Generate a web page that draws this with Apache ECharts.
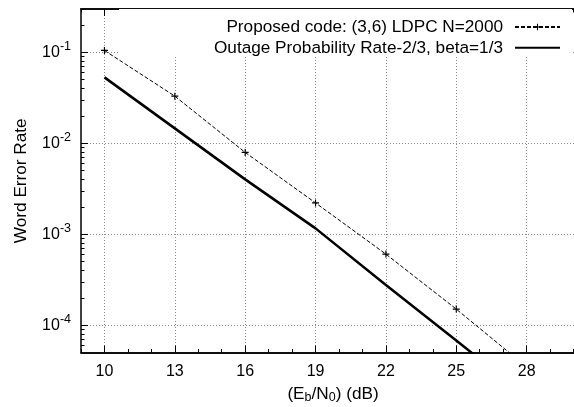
<!DOCTYPE html>
<html>
<head>
<meta charset="utf-8">
<script src="https://cdn.jsdelivr.net/npm/echarts@6/dist/echarts.min.js"></script>
<style>
  html, body { margin: 0; padding: 0; background: #fff; }
  #chart { width: 574px; height: 407px; }
</style>
</head>
<body>
<div id="chart"></div>
<script>
// Eb/N0 sample points (dB)
const ebn0 = [10, 13, 16, 19, 22, 25, 28];
// Simulated word error rate of the (3,6) LDPC code, N=2000
const ldpcWer = [0.105, 0.0330, 0.00794, 0.00221, 6.04e-4, 1.50e-4, 3.47e-5];
// Outage probability bound, rate 2/3, beta = 1/3
const outageWer = [0.0531, 0.01459, 0.00401, 0.001159, 2.77e-4, 6.76e-5, 1.65e-5];

// Axis ticks
const xMajorTicks = [10, 13, 16, 19, 22, 25, 28];
const xMinorTicks = [9, 11, 12, 14, 15, 17, 18, 20, 21, 23, 24, 26, 27, 29, 30, 31];
const yMajorTicks = [1e-4, 1e-3, 1e-2, 1e-1];
const yMinorTicks = [6e-5, 7e-5, 8e-5, 9e-5,
  2e-4, 3e-4, 4e-4, 5e-4, 6e-4, 7e-4, 8e-4, 9e-4,
  2e-3, 3e-3, 4e-3, 5e-3, 6e-3, 7e-3, 8e-3, 9e-3,
  2e-2, 3e-2, 4e-2, 5e-2, 6e-2, 7e-2, 8e-2, 9e-2,
  2e-1, 3e-1];

const seriesNames = ['Proposed code: (3,6) LDPC N=2000', 'Outage Probability Rate-2/3, beta=1/3'];

const FONT = 'Liberation Sans, Arial, sans-serif';
const X_MIN = 9, X_MAX = 31, Y_MIN = 5e-5, Y_MAX = 0.3;
const gridLine = { show: true, lineStyle: { color: '#8a8a8a', width: 1, type: [1, 2] } };
const noLabel = { show: false };

function xAxisOf(position, ticks, len, withLabels) {
  return {
    type: 'value', position: position, min: X_MIN, max: X_MAX,
    axisLine: { show: true, onZero: false, lineStyle: { color: '#000', width: 1.5 } },
    axisTick: { show: true, inside: true, length: len, customValues: ticks, lineStyle: { color: '#000', width: 1 } },
    axisLabel: withLabels ? {
      show: true, customValues: ticks, margin: 11, color: '#000', fontSize: 16, fontFamily: FONT
    } : noLabel,
    splitLine: { show: false }
  };
}

const plusPath = 'path://M2.5,0H3.5V2.5H6V3.5H3.5V6H2.5V3.5H0V2.5H2.5Z';

const chart = echarts.init(document.getElementById('chart'), null, { renderer: 'canvas' });
chart.setOption({
  animation: false,
  backgroundColor: '#fff',
  textStyle: { fontFamily: FONT },
  // the plot frame runs past the right edge of the canvas
  grid: { left: 81, top: 9, width: 516, bottom: 54.5, containLabel: false, outerBoundsMode: 'none' },
  xAxis: [
    Object.assign(xAxisOf('bottom', xMajorTicks, 7, true), {
      splitLine: gridLine,
      name: '(E{sub|b}/N{sub|0}) (dB)',
      nameLocation: 'middle', nameGap: 29,
      nameTextStyle: {
        color: '#000', fontSize: 17.2, fontFamily: FONT, lineHeight: 20, padding: [0, 12, 0, 0],
        rich: { sub: { fontSize: 12.5, lineHeight: 10, verticalAlign: 'bottom', fontFamily: FONT, color: '#000' } }
      }
    }),
    xAxisOf('bottom', xMinorTicks, 3.5, false),
    xAxisOf('top', xMajorTicks, 7, false),
    xAxisOf('top', xMinorTicks, 3.5, false)
  ],
  yAxis: [
    {
      type: 'log', logBase: 10, min: Y_MIN, max: Y_MAX, position: 'left',
      axisLine: { show: true, onZero: false, lineStyle: { color: '#000', width: 1.5 } },
      axisTick: { show: true, inside: true, length: 7, customValues: yMajorTicks, lineStyle: { color: '#000', width: 1 } },
      axisLabel: {
        show: true, customValues: yMajorTicks, margin: 10, color: '#000',
        formatter: function (v) {
          const e = Math.round(Math.log10(v));
          return '{b|10}{s|' + e + '}';
        },
        rich: {
          b: { fontSize: 16, lineHeight: 24, fontFamily: FONT, color: '#000' },
          s: { fontSize: 12.5, lineHeight: 10, verticalAlign: 'top', fontFamily: FONT, color: '#000' }
        }
      },
      splitLine: gridLine,
      name: 'Word Error Rate', nameLocation: 'middle', nameGap: 51,
      nameTextStyle: { color: '#000', fontSize: 17.2, fontFamily: FONT }
    },
    {
      type: 'log', logBase: 10, min: Y_MIN, max: Y_MAX, position: 'left',
      axisLine: { show: false },
      axisTick: { show: true, inside: true, length: 3.5, customValues: yMinorTicks, lineStyle: { color: '#000', width: 1 } },
      axisLabel: noLabel,
      splitLine: { show: false }
    }
  ],
  legend: {
    orient: 'vertical', right: 2, top: 9,
    align: 'right',
    backgroundColor: '#fff',
    padding: [9.5, 11, 0.5, 95],
    itemWidth: 45, itemHeight: 8, itemGap: 3.8,
    textStyle: { color: '#000', fontSize: 17.2, fontFamily: FONT, padding: [0, 7, 0, 0] },
    data: [
      { name: seriesNames[0] },
      { name: seriesNames[1], itemStyle: { opacity: 0 } }
    ]
  },
  series: [
    {
      name: seriesNames[0], type: 'line', xAxisIndex: 0, yAxisIndex: 0,
      data: ebn0.map((x, i) => [x, ldpcWer[i]]),
      clip: true,
      symbol: plusPath, symbolSize: 7, showSymbol: true,
      itemStyle: { color: '#000' },
      lineStyle: { color: '#000', width: 1, type: [4, 2] }
    },
    {
      name: seriesNames[1], type: 'line', xAxisIndex: 0, yAxisIndex: 0,
      data: ebn0.map((x, i) => [x, outageWer[i]]),
      clip: true,
      symbol: 'none',
      itemStyle: { color: '#000' },
      lineStyle: { color: '#000', width: 2.5 }
    }
  ]
});
</script>
</body>
</html>
